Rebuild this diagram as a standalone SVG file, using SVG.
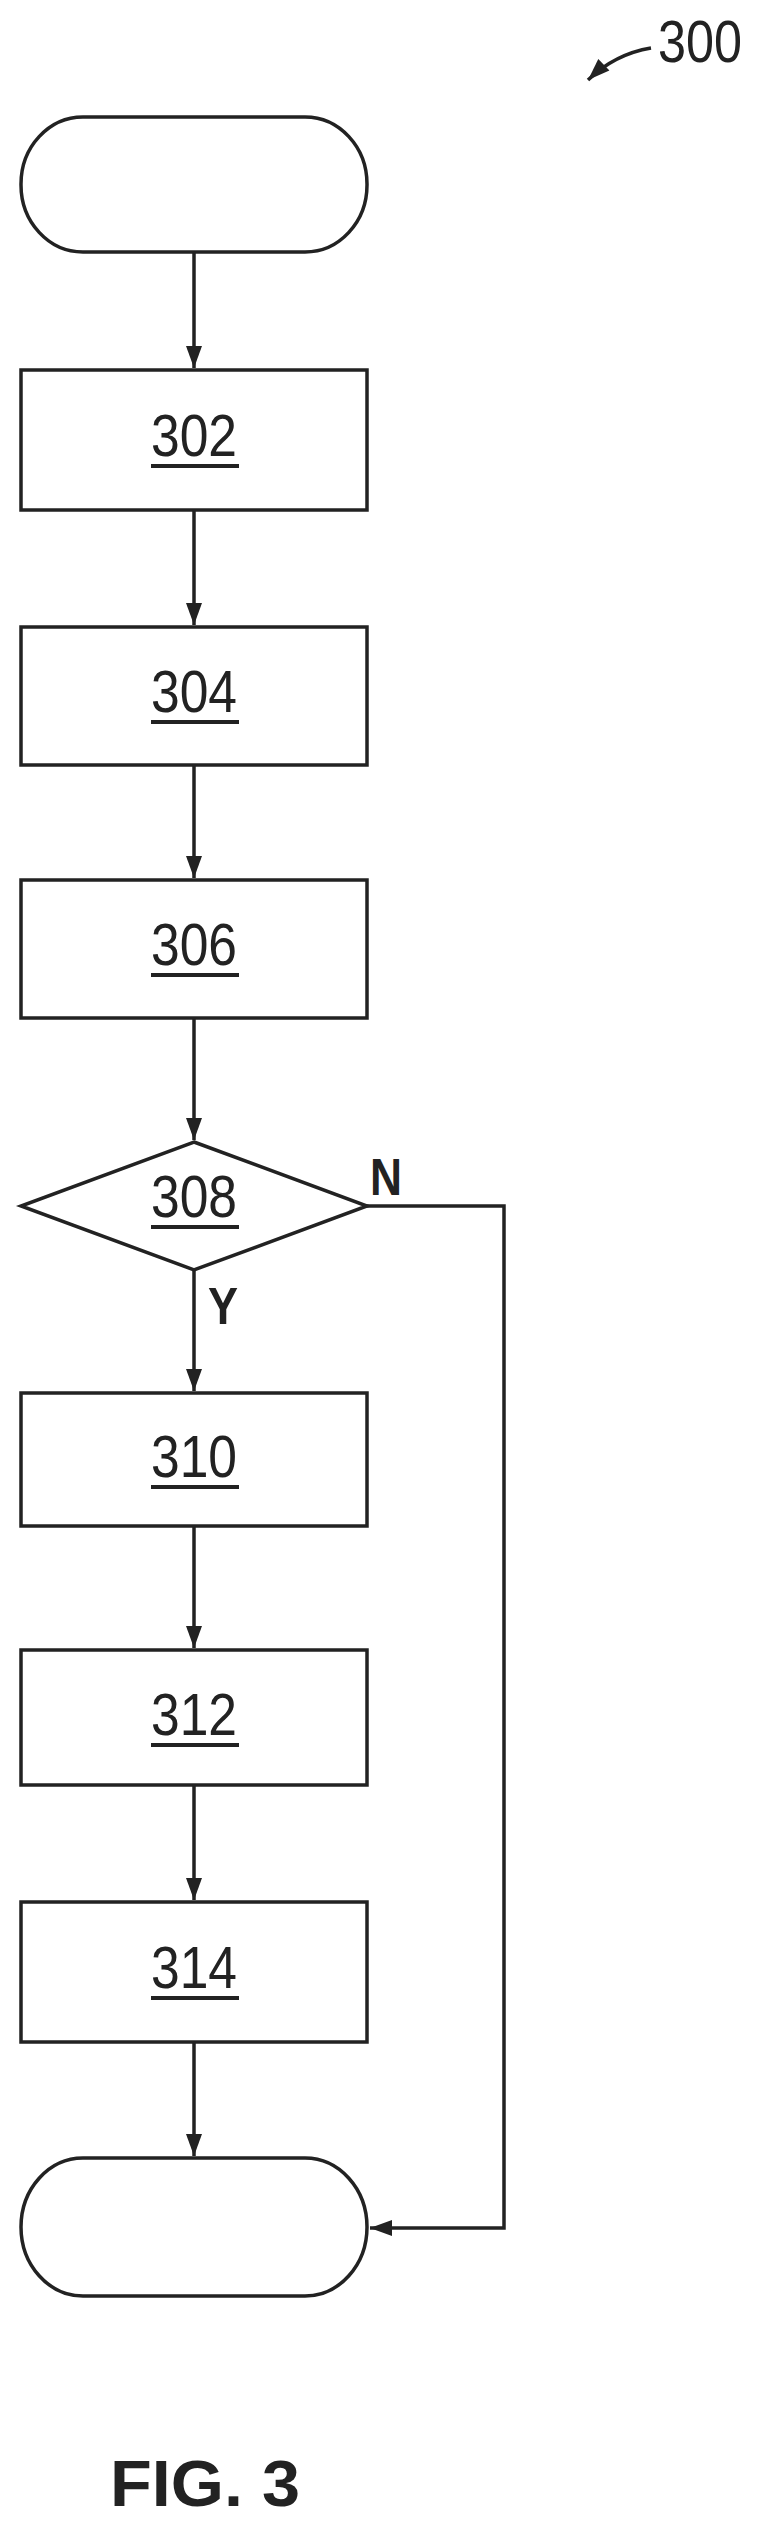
<svg xmlns="http://www.w3.org/2000/svg" width="760" height="2521" viewBox="0 0 760 2521">
<style>
.s{fill:none;stroke:#222;stroke-width:3.5}
.t{font-family:"Liberation Sans Narrow","Liberation Sans",Arial,sans-serif;font-size:60px;fill:#222;text-anchor:middle}
.u{stroke:#222;stroke-width:4}
.l{font-family:"Liberation Sans",Arial,sans-serif;font-weight:bold;fill:#222}
</style>
<defs>
<marker id="a" viewBox="-22 -8 24 16" refX="0" refY="0" markerWidth="24" markerHeight="16" markerUnits="userSpaceOnUse" orient="auto" overflow="visible">
<path d="M-22,-8 L0,0 L-22,8 Z" fill="#222"/>
</marker>
</defs>
<g id="connectors">
<line class="s" x1="194" y1="252" x2="194" y2="368" marker-end="url(#a)"/>
<line class="s" x1="194" y1="510" x2="194" y2="625" marker-end="url(#a)"/>
<line class="s" x1="194" y1="765" x2="194" y2="878" marker-end="url(#a)"/>
<line class="s" x1="194" y1="1018" x2="194" y2="1140" marker-end="url(#a)"/>
<line class="s" x1="194" y1="1270" x2="194" y2="1391" marker-end="url(#a)"/>
<line class="s" x1="194" y1="1526" x2="194" y2="1648" marker-end="url(#a)"/>
<line class="s" x1="194" y1="1785" x2="194" y2="1900" marker-end="url(#a)"/>
<line class="s" x1="194" y1="2042" x2="194" y2="2156" marker-end="url(#a)"/>
<polyline class="s" points="367,1206 504,1206 504,2228 370,2228" marker-end="url(#a)"/>
<path class="s" d="M651,48 Q615,54 588,80" marker-end="url(#a)"/>
<text class="l" x="370" y="1195" font-size="52" textLength="32" lengthAdjust="spacingAndGlyphs">N</text>
<text class="l" x="208" y="1324" font-size="52" textLength="30" lengthAdjust="spacingAndGlyphs">Y</text>
</g>
<text x="700" y="62" class="t" font-size="50" textLength="84" lengthAdjust="spacingAndGlyphs">300</text>
<g id="start"><rect class="s" x="21" y="117" width="346" height="135" rx="62" ry="67"/></g>
<g id="n302"><rect class="s" x="21" y="370" width="346" height="140"/><text class="t" x="194" y="456" textLength="86" lengthAdjust="spacingAndGlyphs">302</text><line class="u" x1="151" y1="466" x2="239" y2="466"/></g>
<g id="n304"><rect class="s" x="21" y="627" width="346" height="138"/><text class="t" x="194" y="712" textLength="86" lengthAdjust="spacingAndGlyphs">304</text><line class="u" x1="151" y1="722" x2="239" y2="722"/></g>
<g id="n306"><rect class="s" x="21" y="880" width="346" height="138"/><text class="t" x="194" y="965" textLength="86" lengthAdjust="spacingAndGlyphs">306</text><line class="u" x1="151" y1="975" x2="239" y2="975"/></g>
<g id="n308"><polygon class="s" points="194,1142 367,1206 194,1270 21,1206"/><text class="t" x="194" y="1217" textLength="86" lengthAdjust="spacingAndGlyphs">308</text><line class="u" x1="151" y1="1227" x2="239" y2="1227"/></g>
<g id="n310"><rect class="s" x="21" y="1393" width="346" height="133"/><text class="t" x="194" y="1477" textLength="86" lengthAdjust="spacingAndGlyphs">310</text><line class="u" x1="151" y1="1487" x2="239" y2="1487"/></g>
<g id="n312"><rect class="s" x="21" y="1650" width="346" height="135"/><text class="t" x="194" y="1735" textLength="86" lengthAdjust="spacingAndGlyphs">312</text><line class="u" x1="151" y1="1745" x2="239" y2="1745"/></g>
<g id="n314"><rect class="s" x="21" y="1902" width="346" height="140"/><text class="t" x="194" y="1988" textLength="86" lengthAdjust="spacingAndGlyphs">314</text><line class="u" x1="151" y1="1998" x2="239" y2="1998"/></g>
<g id="end"><rect class="s" x="21" y="2158" width="346" height="138" rx="62" ry="69"/></g>
<text class="l" x="110" y="2506" font-size="64" textLength="190" lengthAdjust="spacingAndGlyphs">FIG. 3</text>
</svg>
